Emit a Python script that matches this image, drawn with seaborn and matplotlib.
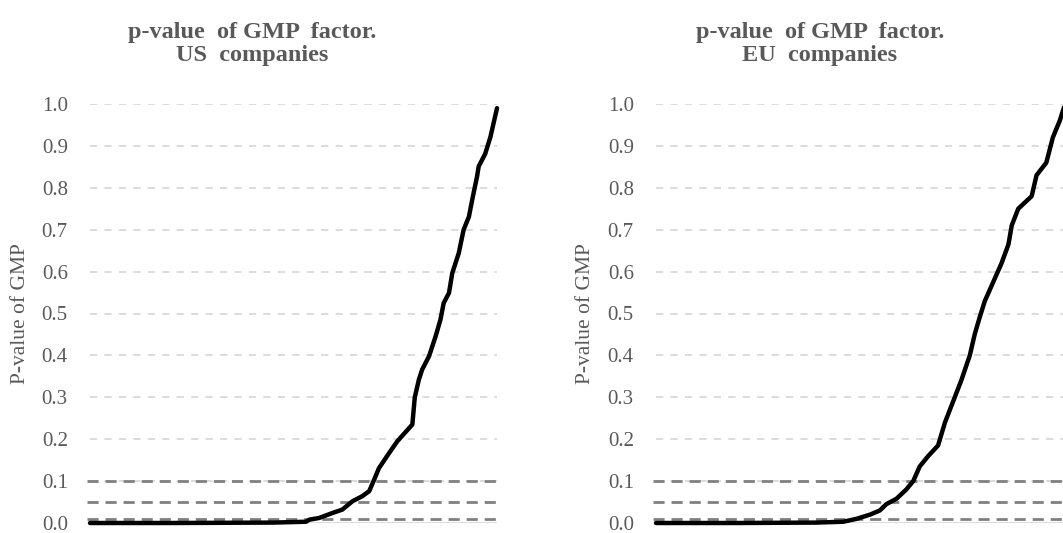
"""
Sorted p-values of the GMP factor for US and EU companies, with
significance thresholds at 1%, 5% and 10%.
"""

import matplotlib
matplotlib.use("Agg")
import matplotlib.pyplot as plt
import pandas as pd
import seaborn as sns

# share of companies (%, sorted by p-value) and the p-value read at that rank
US_RANK = [0, 20, 44.9, 53.1, 53.9, 56.3, 59.6, 62.0, 64.5, 66.9, 68.6, 69.8,
           71.0, 73.5, 75.5, 79.2, 79.8, 80.8, 81.6, 83.3, 84.9, 86.1, 86.9,
           88.2, 89.0, 90.6, 91.8, 93.1, 93.9, 95.1, 95.5, 97.1, 98.4, 100]
US_PVAL = [0.0, 0.0, 0.001, 0.003, 0.008, 0.012, 0.024, 0.032, 0.052, 0.064,
           0.076, 0.103, 0.131, 0.167, 0.195, 0.235, 0.300, 0.342, 0.366,
           0.398, 0.445, 0.485, 0.525, 0.549, 0.596, 0.644, 0.700, 0.731,
           0.771, 0.827, 0.851, 0.881, 0.922, 0.990]

EU_RANK = [0, 20, 39.4, 46.0, 49.3, 52.6, 55.0, 56.6, 59.1, 61.5, 63.2, 64.8,
           66.9, 69.3, 71.0, 73.0, 75.0, 77.1, 78.3, 79.5, 80.8, 82.4, 84.9,
           86.6, 87.4, 89.0, 92.3, 93.5, 95.9, 97.5, 99.2, 100.5]
EU_PVAL = [0.0, 0.0, 0.001, 0.003, 0.010, 0.020, 0.030, 0.045, 0.058, 0.080,
           0.100, 0.135, 0.160, 0.185, 0.240, 0.290, 0.340, 0.400, 0.450,
           0.490, 0.530, 0.565, 0.620, 0.665, 0.710, 0.750, 0.780, 0.830,
           0.860, 0.920, 0.960, 1.000]

THRESHOLDS = [0.01, 0.05, 0.10]
Y_TICKS = [0.0, 0.1, 0.2, 0.3, 0.4, 0.5, 0.6, 0.7, 0.8, 0.9, 1.0]
TITLES = ["p-value  of GMP  factor.\nUS  companies",
          "p-value  of GMP  factor.\nEU  companies"]
Y_LABEL = "P-value of GMP"

GREY_TEXT = "#595959"
GRID = "#d9d9d9"
DARK_DASH = "#808080"

sns.set_style("white")
plt.rcParams["font.family"] = ["Liberation Serif", "DejaVu Serif"]

W, H = 1063, 533
fig = plt.figure(figsize=(W / 100, H / 100), dpi=100)

# (data, axes left edge px, title centre px, y-label right edge px)
panels = [
    (pd.DataFrame({"rank": US_RANK, "pval": US_PVAL}), 90, 252, 30),
    (pd.DataFrame({"rank": EU_RANK, "pval": EU_PVAL}), 656, 820, 595),
]

for (df, left_px, title_px, label_px), title in zip(panels, TITLES):
    ax = fig.add_axes([left_px / W, 10 / H, 407 / W, 419 / H])
    ax.set_xlim(0, 100)
    ax.set_ylim(0, 1.0)

    for y in Y_TICKS[1:]:
        ax.axhline(y, color=GRID, lw=1.3, ls=(0, (4, 4)), zorder=0)
    ax.axhline(0, color=GRID, lw=1.3, zorder=0)
    for t in THRESHOLDS:
        ax.axhline(t, xmin=-0.008, xmax=1.008, color=DARK_DASH, lw=2,
                   ls=(0, (4, 2.5)), zorder=1, clip_on=False)

    sns.lineplot(data=df, x="rank", y="pval", ax=ax, color="black", lw=3.2,
                 zorder=3, clip_on=False)

    ax.set_yticks(Y_TICKS)
    ax.set_yticklabels([f"{v:.1f}" for v in Y_TICKS], fontsize=15,
                       color=GREY_TEXT)
    ax.tick_params(axis="y", length=0, pad=16)
    ax.set_xticks([])
    ax.set_xlabel("")
    ax.set_ylabel(Y_LABEL, fontsize=15.5, color=GREY_TEXT)
    ax.yaxis.set_label_coords((label_px - left_px) / 407, 0.5)
    sns.despine(ax=ax, left=True, bottom=True)

    fig.text(title_px / W, 1 - 22 / H, title, ha="center", va="top",
             fontsize=17.5, fontweight="bold", color=GREY_TEXT, linespacing=1.1)

plt.savefig("out.png", dpi=100)
plt.close()
